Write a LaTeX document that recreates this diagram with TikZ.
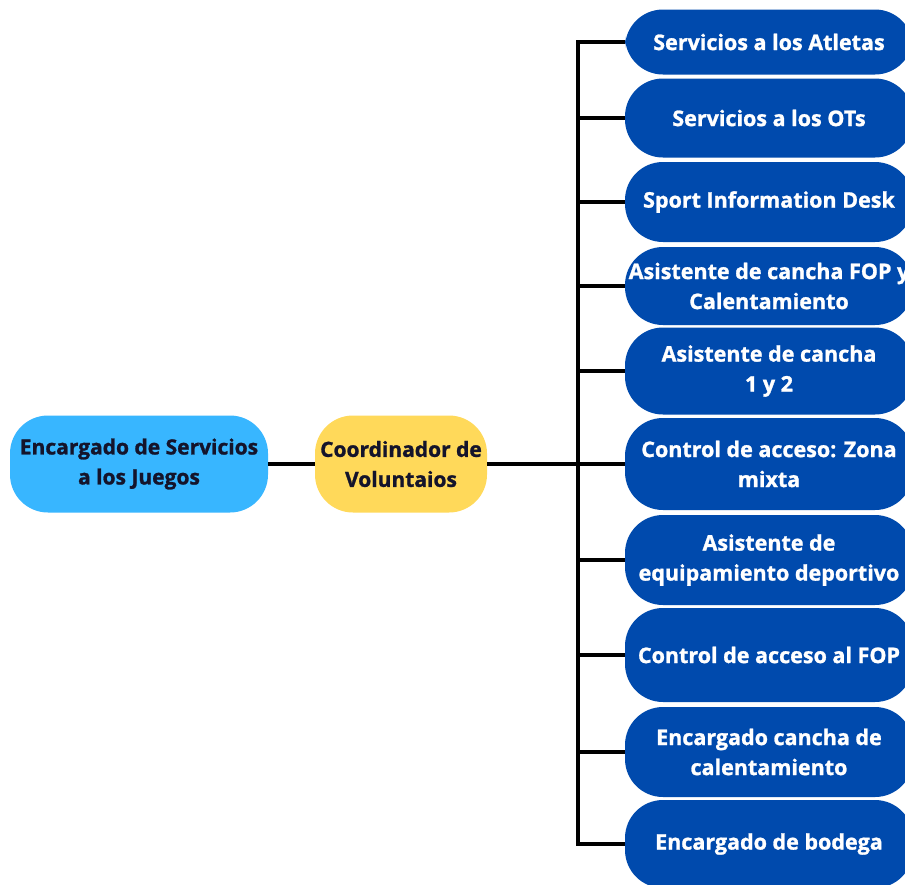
\documentclass[tikz,border=0pt]{standalone}
\usepackage{fontspec}
\setmainfont{Open Sans}[BoldFeatures={FakeBold=1.2}]
\definecolor{navy}{HTML}{004AAD}
\definecolor{sky}{HTML}{38B6FF}
\definecolor{gold}{HTML}{FFD95A}
\definecolor{ink}{HTML}{14142B}
\tikzset{
  bluebox/.style={fill=navy, text=white, rounded corners=38pt, minimum width=288pt,
    align=center, font=\fontsize{21.5}{30}\selectfont\bfseries, inner sep=0pt},
  leftbox/.style={rounded corners=38pt, text=ink, align=center,
    font=\fontsize{21}{30}\selectfont\bfseries, inner sep=0pt, minimum height=97pt},
  conn/.style={line width=4pt, black}
}
\begin{document}
\begin{tikzpicture}[x=1pt,y=-1pt]
\clip (0,0) rectangle (905,884);
\fill[white] (0,0) rectangle (905,884);
\node[leftbox, fill=sky, minimum width=258pt] (enc) at (139,464) {Encargado de Servicios\\a los Juegos};
\node[leftbox, fill=gold, minimum width=172pt] (coord) at (401,464) {Coordinador de\\Voluntaios};
\node[bluebox, minimum height=65pt] (b1) at (769,42) {Servicios a los Atletas};
\node[bluebox, minimum height=79pt] (b2) at (769,118) {Servicios a los OTs};
\node[bluebox, minimum height=80pt] (b3) at (769,202) {Sport Information Desk};
\node[bluebox, minimum height=78pt] (b4) at (769,286) {Asistente de cancha FOP y\\Calentamiento};
\node[bluebox, minimum height=87pt] (b5) at (769,371) {Asistente de cancha\\1 y 2};
\node[bluebox, minimum height=92pt] (b6) at (769,464) {Control de acceso: Zona\\mixta};
\node[bluebox, minimum height=90pt] (b7) at (769,560) {Asistente de\\equipamiento deportivo};
\node[bluebox, minimum height=94pt] (b8) at (769,655) {Control de acceso al FOP};
\node[bluebox, minimum height=90pt] (b9) at (769,752) {Encargado cancha de\\calentamiento};
\node[bluebox, minimum height=88pt] (b10) at (769,844) {Encargado de bodega};
\coordinate (trunk) at (578,0);
\draw[conn] (b1.west) -- (b1.west -| trunk) -- (b10.west -| trunk) -- (b10.west);
\foreach \i in {2,...,9} { \draw[conn] (b\i.west) -- (b\i.west -| trunk); }
\draw[conn] (enc.east) -- (coord.west);
\draw[conn] (coord.east) -- (b6.west);
\end{tikzpicture}
\end{document}
